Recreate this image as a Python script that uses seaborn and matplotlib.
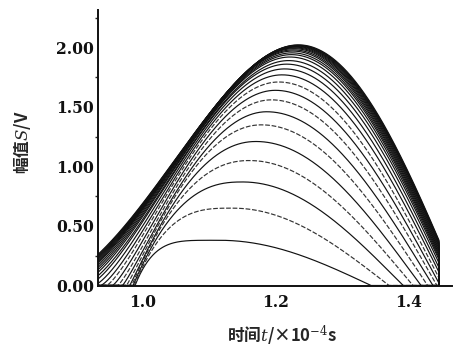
import numpy as np
import pandas as pd
import matplotlib
matplotlib.use("Agg")
import matplotlib.pyplot as plt
import seaborn as sns
from matplotlib.ticker import MultipleLocator, FormatStrFormatter

# ---- data (one hump per curve) ----
peak_S  = [0.38, 0.65, 0.87, 1.05, 1.21, 1.35, 1.46, 1.56, 1.64, 1.71,
           1.77, 1.82, 1.86, 1.89, 1.92, 1.94, 1.955, 1.97, 1.98, 1.99,
           1.997, 2.003, 2.008, 2.012, 2.016, 2.019, 2.022]
peak_t  = [1.115, 1.135, 1.150, 1.160, 1.170, 1.178, 1.186, 1.193, 1.199, 1.204,
           1.209, 1.213, 1.216, 1.219, 1.221, 1.223, 1.224, 1.225, 1.226, 1.227,
           1.228, 1.229, 1.230, 1.231, 1.232, 1.233, 1.234]
start_t = [0.988, 0.987, 0.985, 0.983, 0.980, 0.975, 0.969, 0.962, 0.954, 0.945,
           0.936, 0.926, 0.916, 0.908, 0.900, 0.893, 0.887, 0.881, 0.875, 0.870,
           0.866, 0.862, 0.858, 0.855, 0.852, 0.849, 0.846]
end_t   = [1.343, 1.370, 1.391, 1.406, 1.418, 1.428, 1.436, 1.442, 1.447, 1.451,
           1.455, 1.458, 1.461, 1.463, 1.464, 1.465, 1.466, 1.467, 1.468, 1.469,
           1.470, 1.471, 1.472, 1.4725, 1.473, 1.4735, 1.474]
foot_a  = [1.0, 1.0, 1.0, 1.0, 1.05, 1.1, 1.15, 1.2, 1.25, 1.3,
           1.35, 1.4, 1.45, 1.5, 1.54, 1.58, 1.61, 1.64, 1.67, 1.7,
           1.72, 1.74, 1.76, 1.77, 1.78, 1.79, 1.8]
knee_b  = [4.7, 3.1, 2.5, 2.2, 2.1, 2.05, 2.0, 2.0, 2.0, 2.0,
           2.0, 2.0, 2.0, 2.0, 2.0, 2.0, 2.0, 2.0, 2.0, 2.0,
           2.0, 2.0, 2.0, 2.0, 2.0, 2.0, 2.0]
t_first, t_last = 0.85, 1.445   # recorded time window

x_ticks = [1.0, 1.2, 1.4]
y_ticks = [0.0, 0.5, 1.0, 1.5, 2.0]


def hump(t, A, ts, tp, te, a, b):
    S = np.zeros_like(t)
    L = (t >= ts) & (t <= tp)
    u = (t[L] - ts) / (tp - ts)
    S[L] = A * (1 - (1 - u ** a) ** b)
    R = (t > tp) & (t < te)
    S[R] = A * np.cos(np.pi / 2 * (t[R] - tp) / (te - tp))
    return S


t = np.linspace(t_first, t_last, 800)
frames = []
for i in range(len(peak_S)):
    s = hump(t, peak_S[i], start_t[i], peak_t[i], end_t[i], foot_a[i], knee_b[i])
    tt = np.append(t, t_last)
    ss = np.append(s, 0.0)
    frames.append(pd.DataFrame({"t": tt, "S": ss, "curve": i}))
df = pd.concat(frames, ignore_index=True)

sns.set_style("white")
plt.rcParams["font.family"] = ["DejaVu Serif"]
plt.rcParams["mathtext.fontset"] = "dejavuserif"

fig = plt.figure(figsize=(4.55, 3.51), dpi=100)
ax = fig.add_axes([98 / 455, 65.5 / 351, 354 / 455, 275.5 / 351])

for i in range(len(peak_S)):
    d = df[df["curve"] == i]
    if i < 10 and i % 2 == 1:
        style, col = (0, (4, 1.5)), "#333333"
    else:
        style, col = "-", "#111111"
    sns.lineplot(data=d, x="t", y="S", ax=ax, color=col, lw=0.85,
                 linestyle=style, sort=False, estimator=None)

ax.set_xlim(0.9323, 1.4647)
ax.set_ylim(0, 2.315)
ax.set_xticks(x_ticks)
ax.set_yticks(y_ticks)
ax.yaxis.set_minor_locator(MultipleLocator(0.25))
ax.yaxis.set_major_formatter(FormatStrFormatter("%.2f"))
ax.xaxis.set_major_formatter(FormatStrFormatter("%.1f"))
for sp in ["top", "right"]:
    ax.spines[sp].set_visible(False)
for sp in ["left", "bottom"]:
    ax.spines[sp].set_linewidth(1.4)
    ax.spines[sp].set_color("#111111")
ax.tick_params(axis="both", which="major", length=2.5, width=1.2,
               labelsize=11.2, colors="#111111")
ax.tick_params(axis="y", which="major", direction="out", pad=0.5)
ax.tick_params(axis="y", which="minor", direction="out", length=2.5, width=1.0, left=True)
ax.tick_params(axis="x", which="major", direction="in", length=3, pad=6)
for lab in ax.get_xticklabels() + ax.get_yticklabels():
    lab.set_fontweight("bold")

ax.set_xlabel("时间$t$/×10$^{-4}$s", family=["Noto Sans CJK SC", "DejaVu Sans"],
              fontsize=12, fontweight="bold")
ax.set_ylabel("幅值$S$/V", family=["Noto Sans CJK SC", "DejaVu Sans"],
              fontsize=12, fontweight="bold")
ax.xaxis.label.set_va("center")
ax.yaxis.label.set_va("center")
ax.xaxis.set_label_coords(0.52, -0.183)
ax.yaxis.set_label_coords(-0.215, 0.52)

fig.savefig("out.png", dpi=100)
